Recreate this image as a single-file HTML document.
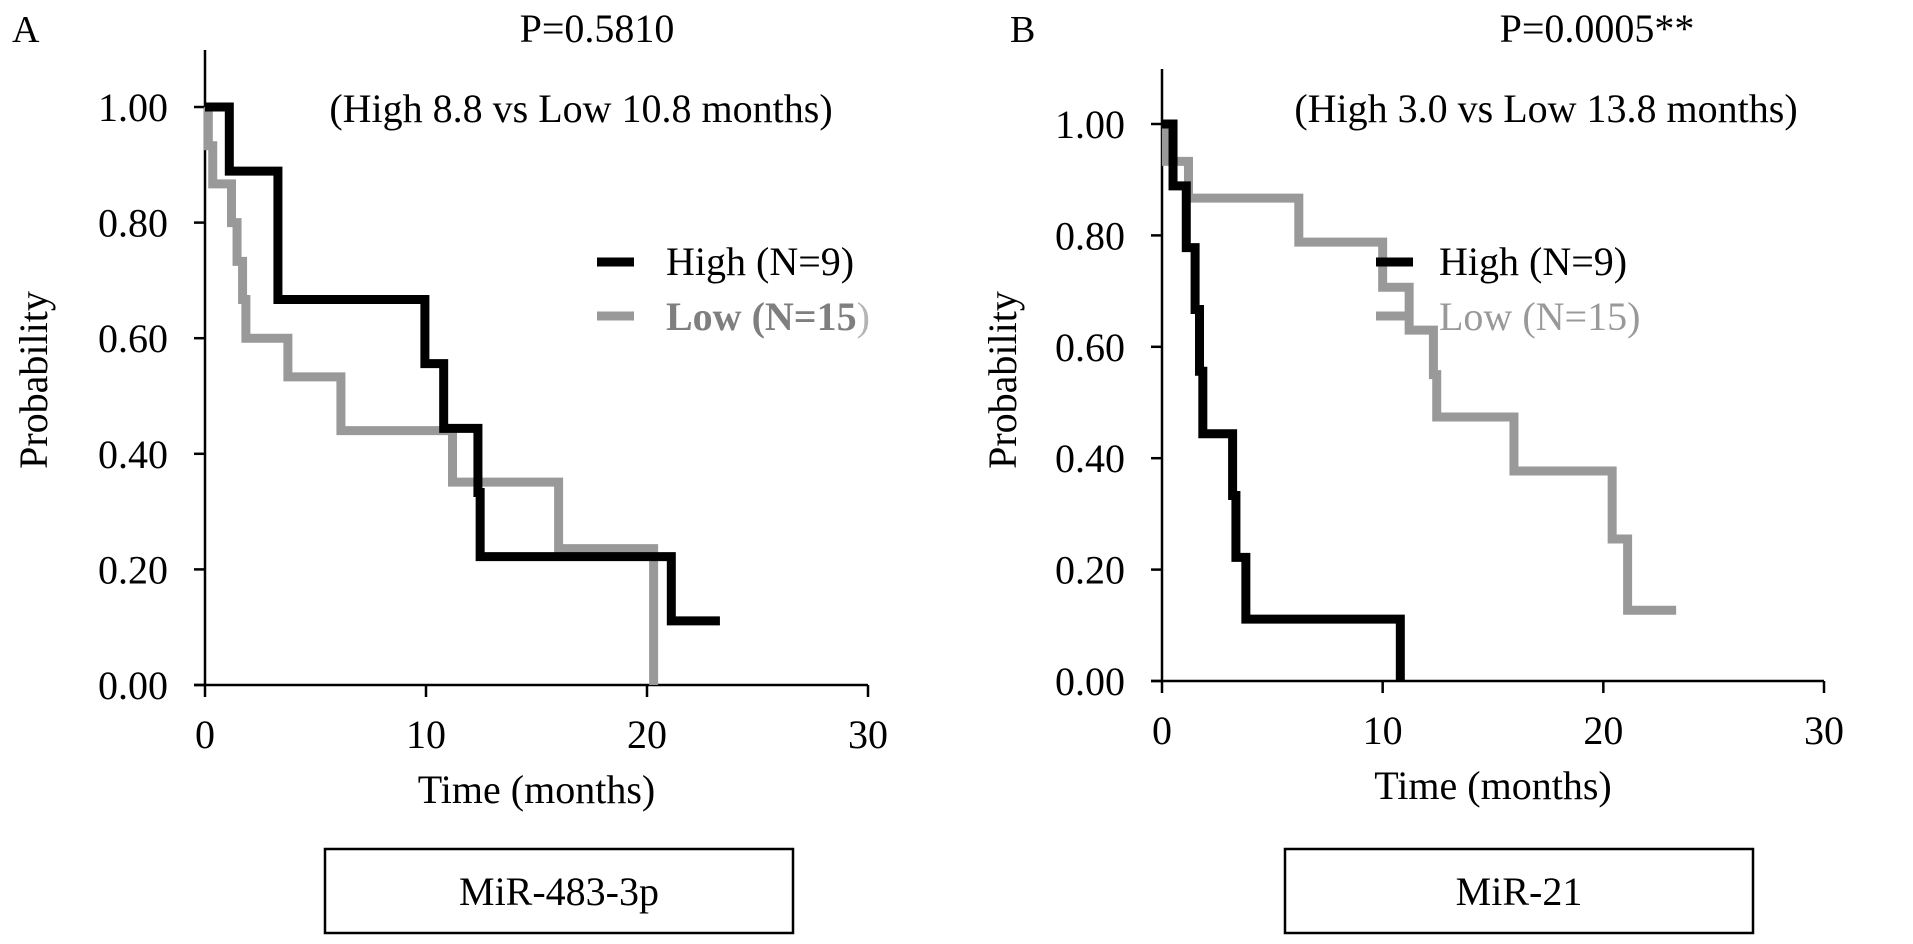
<!DOCTYPE html>
<html><head><meta charset="utf-8"><style>
html,body{margin:0;padding:0;background:#fff;}
svg{display:block;font-family:"Liberation Serif","Times New Roman",serif;}
</style></head><body>
<svg id="fig" width="1913" height="944" viewBox="0 0 1913 944">
</svg>
<script>
const xTicks = [0, 10, 20, 30];
const yTicks = [0, 0.2, 0.4, 0.6, 0.8, 1.0];
const yTickLabels = ["0.00", "0.20", "0.40", "0.60", "0.80", "1.00"];
// Panel A: MiR-483-3p
const aHighTimes = [0, 1.1, 3.3, 9.95, 10.8, 12.35, 12.45, 21.1, 23.3];
const aHighProbs = [1.0, 0.889, 0.667, 0.556, 0.444, 0.333, 0.222, 0.111, 0.111];
const aLowTimes = [0, 0.15, 0.35, 1.2, 1.45, 1.7, 1.85, 3.75, 6.15, 11.2, 16.0, 20.3];
const aLowProbs = [1.0, 0.933, 0.867, 0.8, 0.733, 0.667, 0.6, 0.533, 0.44, 0.351, 0.236, 0];
// Panel B: MiR-21
const bHighTimes = [0, 0.5, 1.1, 1.5, 1.7, 1.85, 3.2, 3.35, 3.8, 10.8];
const bHighProbs = [1.0, 0.889, 0.778, 0.667, 0.556, 0.444, 0.333, 0.222, 0.111, 0];
const bLowTimes = [0, 0.2, 1.2, 6.2, 10.0, 11.2, 12.3, 12.45, 15.95, 20.4, 21.1, 23.3];
const bLowProbs = [1.0, 0.933, 0.867, 0.788, 0.707, 0.63, 0.55, 0.474, 0.377, 0.255, 0.127, 0.127];

const NS = "http://www.w3.org/2000/svg";
const svg = document.getElementById('fig');
function mk(tag, attrs, parent, text) {
  const e = document.createElementNS(NS, tag);
  for (const k in attrs) e.setAttribute(k, attrs[k]);
  if (text !== undefined) e.textContent = text;
  (parent || svg).appendChild(e);
  return e;
}

const panels = [
  {key:'a', letter:'A', letterX:12, x0:205, x1:868, y0:685, y1:107, axisTop:50, labelRight:168, probX:34,
   pText:'P=0.5810', pX:597, sub:'(High 8.8 vs Low 10.8 months)', subX:581,
   legX:597, legTextX:666, boxX:325, boxW:468, gene:'MiR-483-3p', lowBold:true,
   high:[aHighTimes, aHighProbs], low:[aLowTimes, aLowProbs]},
  {key:'b', letter:'B', letterX:1010, x0:1162, x1:1824, y0:681, y1:124, axisTop:69, labelRight:1125, probX:1003,
   pText:'P=0.0005**', pX:1597, sub:'(High 3.0 vs Low 13.8 months)', subX:1546,
   legX:1376, legTextX:1439, boxX:1285, boxW:468, gene:'MiR-21', lowBold:false,
   high:[bHighTimes, bHighProbs], low:[bLowTimes, bLowProbs]}
];

panels.forEach(p => {
  const g = mk('g', {});
  
  
  const xs = t => p.x0 + (p.x1 - p.x0) * t / 30;
  const ys = v => p.y0 - (p.y0 - p.y1) * v;

  let e = mk('text', {x:p.letterX, y:42, 'font-size':38}, g, p.letter);
  
  
  e = mk('text', {x:p.pX, y:42, 'font-size':40, 'text-anchor':'middle'}, g, p.pText);
  
  
  e = mk('text', {x:p.subX, y:122, 'font-size':40, 'text-anchor':'middle'}, g, p.sub);
  
  

  e = mk('line', {x1:p.x0, y1:p.axisTop, x2:p.x0, y2:p.y0, stroke:'#000', 'stroke-width':2.5}, g);
  
  
  e = mk('line', {x1:p.x0 - 11, y1:p.y0, x2:p.x1, y2:p.y0, stroke:'#000', 'stroke-width':2.5}, g);
  
  

  yTicks.forEach((v, i) => {
    const t = mk('line', {x1:p.x0 - 11, y1:ys(v), x2:p.x0, y2:ys(v), stroke:'#000', 'stroke-width':2.5}, g);
    
    
    const l = mk('text', {x:p.labelRight, y:ys(v) + 14, 'font-size':40, 'text-anchor':'end'}, g, yTickLabels[i]);
    
    
  });
  xTicks.forEach(v => {
    const t = mk('line', {x1:xs(v), y1:p.y0, x2:xs(v), y2:p.y0 + 12, stroke:'#000', 'stroke-width':2.5}, g);
    
    
    const l = mk('text', {x:xs(v), y:p.y0 + 63, 'font-size':40, 'text-anchor':'middle'}, g, String(v));
    
    
  });
  e = mk('text', {x:(p.x0 + p.x1) / 2, y:p.y0 + 118, 'font-size':40, 'text-anchor':'middle'}, g, 'Time (months)');
  
  
  e = mk('text', {x:p.probX, y:367, 'font-size':40, 'text-anchor':'middle', transform:'rotate(-90 ' + (p.probX + 13) + ' 367)'}, g, 'Probability');
  
  

  function stepPath(times, probs) {
    let d = 'M' + xs(times[0]) + ' ' + ys(probs[0]);
    for (let i = 1; i < times.length; i++) {
      d += ' H' + xs(times[i]) + ' V' + ys(probs[i]);
    }
    return d;
  }
  e = mk('path', {d:stepPath(p.low[0], p.low[1]), fill:'none', stroke:'#999', 'stroke-width':9, 'stroke-linejoin':'miter'}, g);
  
  
  e = mk('path', {d:stepPath(p.high[0], p.high[1]), fill:'none', stroke:'#000', 'stroke-width':9, 'stroke-linejoin':'miter'}, g);
  
  

  e = mk('line', {x1:p.legX, y1:262, x2:p.legX + 37, y2:262, stroke:'#000', 'stroke-width':9}, g);
  
  
  e = mk('text', {x:p.legTextX, y:275, 'font-size':40}, g, 'High (N=9)');
  
  
  e = mk('line', {x1:p.legX, y1:316, x2:p.legX + 37, y2:316, stroke:'#999', 'stroke-width':9}, g);
  
  
  if (p.lowBold) {
    e = mk('text', {x:p.legTextX, y:330, 'font-size':40, fill:'#7f7f7f', 'font-weight':'bold'}, g);
    mk('tspan', {}, e, 'Low  (N=15');
    mk('tspan', {fill:'#b5b5b5', 'font-weight':'normal'}, e, ')');
  } else {
    e = mk('text', {x:p.legTextX, y:330, 'font-size':40, fill:'#999'}, g, 'Low  (N=15)');
  }
  
  

  e = mk('rect', {x:p.boxX, y:849, width:p.boxW, height:84, fill:'#fff', stroke:'#000', 'stroke-width':2.5}, g);
  
  
  e = mk('text', {x:p.boxX + p.boxW / 2, y:905, 'font-size':40, 'text-anchor':'middle'}, g, p.gene);
  
  
});
</script>
</body></html>
